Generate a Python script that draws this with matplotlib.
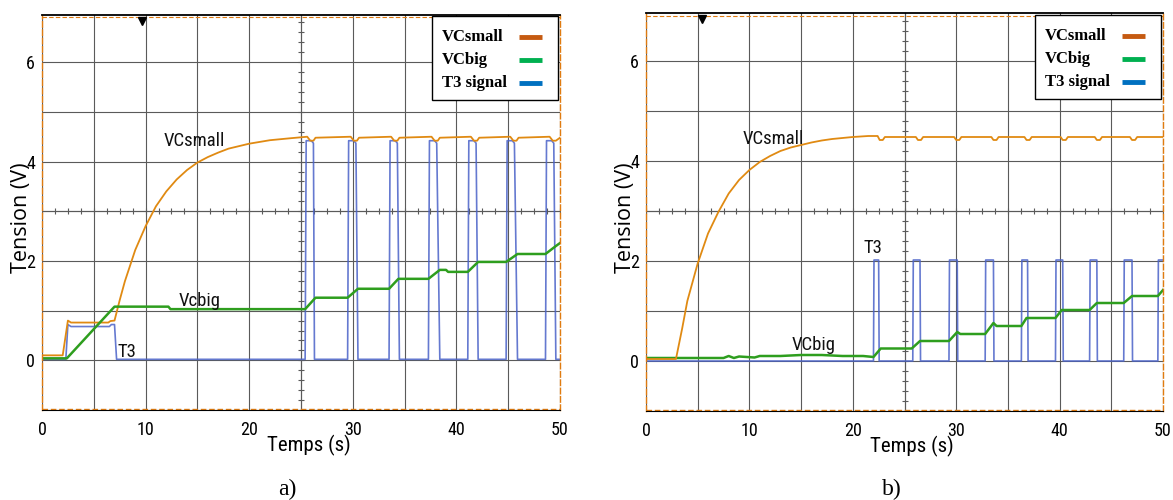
import numpy as np
import matplotlib.pyplot as plt
from matplotlib import font_manager
from matplotlib.patches import Rectangle
from matplotlib.transforms import blended_transform_factory


# ------------ panel a) traces ---------------------------------------------
ta_small = [0, 2.0, 2.5, 2.8, 6.4, 6.6, 7.0, 7.5, 8, 9, 10, 11, 12, 13, 14, 15, 16, 17, 18, 20, 22, 24,
            25.6, 25.9, 26.2, 26.4, 29.8, 30.1, 30.4, 30.6, 33.7, 34.0, 34.3, 34.5,
            37.6, 37.9, 38.2, 38.4, 41.4, 41.7, 42.0, 42.2, 45.2, 45.5, 45.8, 46.0,
            49.0, 49.3, 49.6, 50]
va_small = [0.1, 0.1, 0.8, 0.76, 0.76, 0.79, 0.8, 1.21, 1.59, 2.22, 2.7, 3.1, 3.4, 3.64, 3.83, 3.98, 4.09, 4.18, 4.26, 4.36, 4.43, 4.47,
            4.5, 4.42, 4.42, 4.48, 4.5, 4.42, 4.42, 4.48, 4.5, 4.42, 4.42, 4.48,
            4.5, 4.42, 4.42, 4.48, 4.5, 4.42, 4.42, 4.48, 4.5, 4.42, 4.42, 4.48,
            4.5, 4.42, 4.42, 4.48]

ta_big = [0, 2.4, 7.0, 12.2, 12.4, 25.4, 26.4, 29.5, 30.5, 33.5, 34.4, 37.3, 38.4, 39.0, 39.2,
          41.1, 42.1, 44.8, 45.9, 48.6, 49.6, 50]
va_big = [0.04, 0.04, 1.08, 1.08, 1.03, 1.03, 1.26, 1.26, 1.44, 1.44, 1.64, 1.64, 1.82, 1.82, 1.78,
          1.78, 1.98, 1.98, 2.14, 2.14, 2.30, 2.36]

ta_t3 = [0, 2.3, 2.5, 2.8, 6.5, 6.7, 7.0, 7.2,
         25.4, 25.5, 26.0, 26.2, 26.3, 29.5, 29.6, 30.1, 30.3, 30.5,
         33.5, 33.6, 34.1, 34.3, 34.5, 37.3, 37.4, 37.9, 38.1, 38.4,
         41.1, 41.2, 41.7, 41.9, 42.1, 44.8, 44.9, 45.4, 45.6, 45.9,
         48.6, 48.7, 49.2, 49.4, 49.6, 50]
va_t3 = [0.02, 0.02, 0.72, 0.68, 0.68, 0.72, 0.72, 0.02,
         0.02, 4.42, 4.42, 4.37, 0.02, 0.02, 4.42, 4.42, 4.37, 0.02,
         0.02, 4.42, 4.42, 4.37, 0.02, 0.02, 4.42, 4.42, 4.37, 0.02,
         0.02, 4.42, 4.42, 4.37, 0.02, 0.02, 4.42, 4.42, 4.37, 0.02,
         0.02, 4.42, 4.42, 4.37, 0.02, 0.02]

# ------------ panel b) traces ---------------------------------------------
tb_small = [0, 2.9, 3.5, 4, 5, 6, 7, 8, 9, 10, 11, 12, 13, 14, 15, 16, 17, 18, 20, 21.5,
            22.4, 22.6, 22.9, 23.1, 26.1, 26.3, 26.6, 26.8, 29.8, 30.0, 30.3, 30.5,
            33.4, 33.6, 33.9, 34.1, 36.6, 36.8, 37.1, 37.3, 40.1, 40.3, 40.6, 40.8,
            43.4, 43.6, 43.9, 44.1, 46.8, 47.0, 47.3, 47.5, 50]
vb_small = [0.04, 0.04, 0.65, 1.2, 1.95, 2.55, 2.98, 3.35, 3.62, 3.82, 3.98, 4.1, 4.2, 4.27, 4.32, 4.37, 4.41, 4.44, 4.48, 4.5,
            4.5, 4.42, 4.42, 4.48, 4.48, 4.42, 4.42, 4.48, 4.48, 4.42, 4.42, 4.48,
            4.48, 4.42, 4.42, 4.48, 4.48, 4.42, 4.42, 4.48, 4.48, 4.42, 4.42, 4.48,
            4.48, 4.42, 4.42, 4.48, 4.48, 4.42, 4.42, 4.48, 4.48]

tb_big = [0, 7.5, 8.0, 8.5, 9.0, 10.5, 11.0, 13.0, 15.0, 17.0, 19.0, 21.0, 22.0, 22.7, 25.7, 26.5,
          29.3, 30.1, 30.4, 32.8, 33.6, 33.9, 36.3, 36.8, 39.6, 40.2, 42.9, 43.6, 46.2, 47.0, 49.5, 50]
vb_big = [0.06, 0.06, 0.1, 0.06, 0.09, 0.07, 0.1, 0.1, 0.12, 0.12, 0.1, 0.1, 0.08, 0.25, 0.25, 0.40,
          0.40, 0.58, 0.54, 0.54, 0.76, 0.70, 0.70, 0.86, 0.86, 1.02, 1.02, 1.16, 1.16, 1.30, 1.30, 1.42]

tb_t3 = [0, 22.0, 22.05, 22.5, 22.55, 25.8, 25.85, 26.5, 26.55, 29.3, 29.35, 30.1, 30.15,
         32.8, 32.85, 33.6, 33.65, 36.3, 36.35, 36.9, 36.95, 39.6, 39.65, 40.3, 40.35,
         42.9, 42.95, 43.6, 43.65, 46.2, 46.25, 47.0, 47.05, 49.5, 49.55, 50]
vb_t3 = [0, 0, 2.02, 2.02, 0, 0, 2.02, 2.02, 0, 0, 2.02, 2.02, 0,
         0, 2.02, 2.02, 0, 0, 2.02, 2.02, 0, 0, 2.02, 2.02, 0,
         0, 2.02, 2.02, 0, 0, 2.02, 2.02, 0, 0, 2.02, 2.02]

# trace labels written on the plots: (text, t, V baseline)
notes_a = [("VCsmall", 14.7, 4.32), ("Vcbig", 15.2, 1.1), ("T3", 8.2, 0.06)]
notes_b = [("VCsmall", 12.3, 4.34), ("T3", 21.9, 2.16), ("VCbig", 16.2, 0.22)]
trigger_t = [9.7, 5.4]

legend_names = ["VCsmall", "VCbig", "T3 signal"]
legend_colors = ["#C55A11", "#00B050", "#0070C0"]

c_small = "#E08A12"
c_big = "#2E9E1E"
c_t3 = "#4A62C8"
grid_c = "#5a5a5a"

# the scope screenshot uses a narrow sans; take a condensed face if there is one
installed = {f.name for f in font_manager.fontManager.ttflist}
narrow = "Lato"
for cand in ["Liberation Sans Narrow", "DejaVu Sans Condensed", "Roboto Condensed", "Open Sans Condensed"]:
    if cand in installed:
        narrow = cand
        break
plt.rcParams["font.family"] = [narrow, "DejaVu Sans"]


def scope_frame(ax, trig):
    ax.set_xlim(0, 50)
    ax.set_ylim(-1, 6.95)
    ax.set_xticks(np.arange(0, 51, 10))
    ax.set_yticks([0, 2, 4, 6])
    ax.set_xticks(np.arange(0, 51, 5), minor=True)
    ax.set_yticks(np.arange(-1, 7, 1), minor=True)
    ax.grid(which="both", color=grid_c, lw=0.8)
    ax.tick_params(which="both", length=0)
    ax.tick_params(axis="x", pad=8, labelsize=13)
    ax.tick_params(axis="y", pad=5, labelsize=13)
    # centre axes with small graduations
    ax.axhline(3, color=grid_c, lw=0.8)
    ax.axvline(25, color=grid_c, lw=0.8)
    ax.plot(np.arange(0, 50.01, 1.25), np.full(41, 3.0), "|", color=grid_c, ms=5, mew=0.8)
    ax.plot(np.full(40, 25.0), np.arange(-1, 6.95, 0.2), "_", color=grid_c, ms=5, mew=0.8)
    for s in ["left", "right"]:
        ax.spines[s].set_color("#E07B10")
        ax.spines[s].set_linestyle((0, (4, 2)))
        ax.spines[s].set_linewidth(1.0)
    ax.spines["top"].set_linewidth(1.3)
    ax.spines["bottom"].set_linewidth(0.8)
    ax.plot([0, 1], [0.002, 0.002], transform=ax.transAxes, color="#E07B10",
            ls=(0, (4, 2)), lw=1.0, clip_on=False)
    ax.plot([0, 1], [0.994, 0.994], transform=ax.transAxes, color="#E07B10",
            ls=(0, (4, 2)), lw=0.8, clip_on=False)
    tr = blended_transform_factory(ax.transData, ax.transAxes)
    ax.plot([trig], [0.985], marker="v", color="black", ms=6, transform=tr, clip_on=False)


def scope_legend(ax):
    ax.add_patch(Rectangle((0.752, 0.786), 0.244, 0.211, transform=ax.transAxes,
                           fc="white", ec="black", lw=1.0, zorder=5))
    for i, (name, col) in enumerate(zip(legend_names, legend_colors)):
        y = 0.944 - i * 0.058
        ax.text(0.772, y, name, transform=ax.transAxes, family="Liberation Serif",
                weight="bold", fontsize=12, va="center", ha="left", zorder=6)
        ax.plot([0.921, 0.965], [y, y], transform=ax.transAxes, color=col, lw=3.5,
                solid_capstyle="butt", zorder=6)


def labels(ax, notes):
    for txt, t, v in notes:
        ax.text(t, v, txt, ha="center", va="baseline", fontsize=13.5, color="#111111", zorder=4)
    ax.text(-0.039, 0.487, "Tension (V)", transform=ax.transAxes, rotation=90,
            ha="center", va="center", family="Open Sans", fontsize=15.5)
    ax.text(0.515, -0.089, "Temps (s)", transform=ax.transAxes,
            ha="center", va="center", fontsize=15)


fig = plt.figure(figsize=(11.73, 5), dpi=100)
ax_a = fig.add_axes([0.0358, 0.18, 0.4416, 0.79])
ax_b = fig.add_axes([0.5507, 0.178, 0.4408, 0.795])

# ------------ a) --------------------------------------------------------
scope_frame(ax_a, trigger_t[0])
ax_a.plot(ta_t3, va_t3, color=c_t3, lw=1.2, alpha=0.85)
ax_a.plot(ta_small, va_small, color=c_small, lw=1.3)
ax_a.plot(ta_big, va_big, color=c_big, lw=1.8)
labels(ax_a, notes_a)
scope_legend(ax_a)

# ------------ b) --------------------------------------------------------
scope_frame(ax_b, trigger_t[1])
ax_b.plot(tb_t3, vb_t3, color=c_t3, lw=1.2, alpha=0.85)
ax_b.plot(tb_big, vb_big, color=c_big, lw=1.8)
ax_b.plot(tb_small, vb_small, color=c_small, lw=1.3)
labels(ax_b, notes_b)
scope_legend(ax_b)

fig.text(287 / 1173, 1 - 489 / 500, "a)", family="Liberation Serif", fontsize=17, ha="center", va="center")
fig.text(892 / 1173, 1 - 489 / 500, "b)", family="Liberation Serif", fontsize=17, ha="center", va="center")

fig.savefig("out.png", dpi=100)
